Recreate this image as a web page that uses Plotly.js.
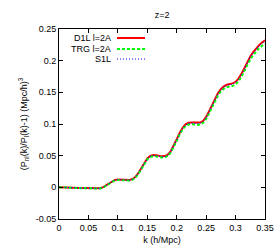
<!DOCTYPE html>
<html><head><meta charset="utf-8">
<script src="https://cdn.plot.ly/plotly-3.0.1.min.js"></script>
<style>html,body{margin:0;padding:0;background:#fff}#c{width:280px;height:250px}</style>
</head><body><div id="c"></div>
<script>
const k = [0,0.005,0.01,0.015,0.02,0.025,0.03,0.035,0.04,0.045,0.05,0.055,0.06,0.065,0.07,0.075,0.08,0.085,0.09,0.095,0.1,0.105,0.11,0.115,0.12,0.125,0.13,0.135,0.14,0.145,0.15,0.155,0.16,0.165,0.17,0.175,0.18,0.185,0.19,0.195,0.2,0.205,0.21,0.215,0.22,0.225,0.23,0.235,0.24,0.245,0.25,0.255,0.26,0.265,0.27,0.275,0.28,0.285,0.29,0.295,0.3,0.305,0.31,0.315,0.32,0.325,0.33,0.335,0.34,0.345,0.35];
const d1l = [0,0,-0.0002,-0.0004,-0.0006,-0.0008,-0.0010,-0.0011,-0.0012,-0.0014,-0.0017,-0.0020,-0.0022,-0.0021,-0.0015,0.0002,0.0032,0.0067,0.0097,0.0117,0.0125,0.0123,0.0117,0.0114,0.0117,0.0132,0.0167,0.0230,0.0310,0.0391,0.0456,0.0496,0.0510,0.0507,0.0497,0.0489,0.0493,0.0518,0.0573,0.0659,0.0759,0.0859,0.0940,0.0995,0.1020,0.1025,0.1020,0.1015,0.1022,0.1050,0.1111,0.1201,0.1301,0.1401,0.1486,0.1551,0.1596,0.1621,0.1631,0.1641,0.1666,0.1716,0.1791,0.1886,0.1981,0.2066,0.2136,0.2196,0.2246,0.2286,0.2321];
const trg = [0,0,-0.0002,-0.0004,-0.0006,-0.0008,-0.0010,-0.0011,-0.0013,-0.0015,-0.0018,-0.0021,-0.0023,-0.0024,-0.0019,-0.0002,0.0026,0.0060,0.0090,0.0110,0.0116,0.0114,0.0108,0.0105,0.0107,0.0121,0.0155,0.0216,0.0296,0.0375,0.0440,0.0479,0.0492,0.0488,0.0478,0.0470,0.0473,0.0497,0.0551,0.0636,0.0735,0.0835,0.0914,0.0968,0.0992,0.0997,0.0991,0.0986,0.0992,0.1019,0.1078,0.1167,0.1266,0.1365,0.1449,0.1513,0.1557,0.1581,0.1591,0.1600,0.1624,0.1673,0.1747,0.1841,0.1935,0.2019,0.2088,0.2147,0.2196,0.2235,0.2269];
const s1l = [0,0,-0.0002,-0.0004,-0.0006,-0.0008,-0.0010,-0.0011,-0.0012,-0.0014,-0.0017,-0.0020,-0.0022,-0.0022,-0.0016,0.0001,0.0030,0.0065,0.0095,0.0115,0.0122,0.0120,0.0114,0.0111,0.0114,0.0128,0.0163,0.0225,0.0305,0.0385,0.0450,0.0490,0.0503,0.0500,0.0490,0.0482,0.0486,0.0510,0.0565,0.0650,0.0750,0.0850,0.0930,0.0985,0.1010,0.1015,0.1010,0.1005,0.1012,0.1040,0.1100,0.1190,0.1290,0.1390,0.1475,0.1540,0.1585,0.1610,0.1620,0.1630,0.1655,0.1705,0.1780,0.1875,0.1970,0.2055,0.2125,0.2185,0.2235,0.2275,0.2310];
const seriesNames = ["D1L l=2A","TRG l=2A","S1L"];
const xTickVals = [0,0.05,0.1,0.15,0.2,0.25,0.3,0.35];
const xTickText = ["0","0.05","0.1","0.15","0.2","0.25","0.3","0.35"];
const yTickVals = [-0.05,0,0.05,0.1,0.15,0.2,0.25];
const yTickText = ["-0.05","0","0.05","0.1","0.15","0.2","0.25"];

const colors = ["#ff0000","#00ff00","#0000ff"];
const dashes = ["solid","3px,2px","1px,2px"];
const widths = [2,2,1];
const ys = [d1l,trg,s1l];
const traces = ys.map((y,i)=>({x:k,y:y,type:"scatter",mode:"lines",name:seriesNames[i],
  line:{color:colors[i],dash:dashes[i],width:widths[i]},showlegend:false}));

const F = "Liberation Sans, Arial, sans-serif";
const rowsY = [0.9526,0.8947,0.842];
const annotations = seriesNames.map((n,i)=>({xref:"paper",yref:"paper",x:0.262,y:rowsY[i],text:n,
  showarrow:false,xanchor:"right",yanchor:"middle",font:{family:F,size:9,color:"#000"}}));
const shapes = seriesNames.map((n,i)=>({type:"line",xref:"paper",yref:"paper",x0:0.2816,x1:0.4175,y0:rowsY[i],y1:rowsY[i],
  line:{color:colors[i],dash:dashes[i],width:widths[i]}}));

const axisCommon = {showgrid:false,zeroline:false,showline:true,linecolor:"#000",linewidth:1,
  ticks:"inside",ticklen:4,tickcolor:"#000",mirror:"ticks",tickmode:"array",
  tickfont:{family:F,size:9,color:"#000"}};
const layout = {
  width:280,height:250,margin:{l:59,r:15,t:29,b:31},
  paper_bgcolor:"#fff",plot_bgcolor:"#fff",
  font:{family:F,size:9,color:"#000"},
  title:{text:"z=2",x:0.579,xanchor:"center",y:0.94,yanchor:"middle",font:{family:F,size:9,color:"#000"}},
  xaxis:Object.assign({},axisCommon,{range:[0,0.35],tickvals:xTickVals,ticktext:xTickText,
    title:{text:"k (h/Mpc)",font:{family:F,size:9},standoff:4}}),
  yaxis:Object.assign({},axisCommon,{range:[-0.05,0.25],tickvals:yTickVals,ticktext:yTickText,
    title:{text:"(P<sub>nl</sub>(k)/P<sub>l</sub>(k)-1) (Mpc/h)<sup>3</sup>",font:{family:F,size:9},standoff:6}}),
  annotations:annotations,shapes:shapes,showlegend:false
};
Plotly.newPlot("c",traces,layout,{staticPlot:true,displayModeBar:false});
</script></body></html>
